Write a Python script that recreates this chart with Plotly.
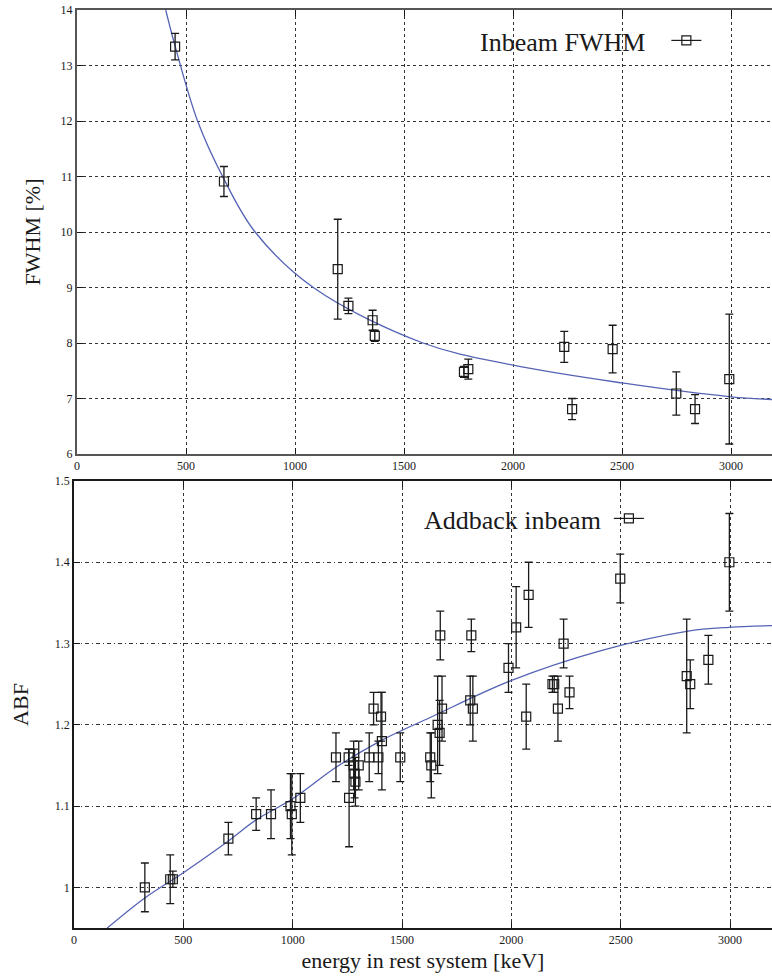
import plotly.graph_objects as go

# ---------- Top panel: Inbeam FWHM ----------
fwhm_energy = [450, 674, 1196, 1245, 1356, 1366, 1775, 1795, 2235, 2271, 2457, 2749, 2835, 2992]
fwhm_value = [13.34, 10.91, 9.33, 8.67, 8.41, 8.13, 7.48, 7.53, 7.93, 6.81, 7.89, 7.09, 6.81, 7.35]
fwhm_error = [0.24, 0.27, 0.90, 0.14, 0.18, 0.10, 0.10, 0.18, 0.28, 0.19, 0.43, 0.39, 0.26, 1.17]

# fit curve
fwhm_fit_energy = [407, 450, 553, 668, 817, 1084, 1587, 2000, 2500, 3000, 3200]
fwhm_fit_value = [14.0, 13.35, 12.0, 11.0, 10.0, 9.0, 8.0, 7.6, 7.28, 7.03, 6.98]

# ---------- Bottom panel: Addback inbeam ----------
abf_energy = [324, 440, 452, 706, 833, 901, 990, 996, 1035, 1198, 1256, 1258, 1279, 1283,
              1287, 1302, 1350, 1370, 1392, 1404, 1408, 1492, 1629, 1634, 1663, 1672, 1675,
              1683, 1812, 1817, 1824, 1987, 2022, 2068, 2079, 2188, 2196, 2213, 2239, 2266,
              2498, 2802, 2818, 2901, 2997]
abf_value = [1.00, 1.01, 1.01, 1.06, 1.09, 1.09, 1.10, 1.09, 1.11, 1.16, 1.16, 1.11, 1.15, 1.14,
             1.13, 1.15, 1.16, 1.22, 1.16, 1.21, 1.18, 1.16, 1.16, 1.15, 1.20, 1.19, 1.31,
             1.22, 1.23, 1.31, 1.22, 1.27, 1.32, 1.21, 1.36, 1.25, 1.25, 1.22, 1.30, 1.24,
             1.38, 1.26, 1.25, 1.28, 1.40]
abf_error = [0.03, 0.03, 0.01, 0.02, 0.02, 0.03, 0.04, 0.05, 0.03, 0.03, 0.01, 0.06, 0.03, 0.03,
             0.03, 0.03, 0.03, 0.02, 0.02, 0.03, 0.06, 0.03, 0.03, 0.04, 0.06, 0.04, 0.03,
             0.04, 0.03, 0.02, 0.04, 0.03, 0.05, 0.04, 0.04, 0.01, 0.01, 0.04, 0.03, 0.02,
             0.03, 0.07, 0.03, 0.03, 0.06]

abf_fit_energy = [152, 324, 500, 706, 833, 1000, 1200, 1400, 1629, 1995, 2406, 2802, 2997, 3200]
abf_fit_value = [0.95, 0.987, 1.018, 1.057, 1.083, 1.109, 1.148, 1.18, 1.209, 1.254, 1.291, 1.315, 1.320, 1.322]

x_ticks = [0, 500, 1000, 1500, 2000, 2500, 3000]

FONT = "Liberation Serif"
W, H = 772, 978
FIT_COLOR = "#5563b5"
INK = "#1a1a1a"

marker_style = dict(symbol="square-open", size=9, color=INK, line=dict(width=1.2, color=INK))

fig = go.Figure()

# --- top panel
fig.add_trace(go.Scatter(
    x=fwhm_fit_energy, y=fwhm_fit_value, mode="lines", line=dict(color=FIT_COLOR, width=1.3, shape="spline"),
    xaxis="x", yaxis="y", showlegend=False, hoverinfo="skip"))
fig.add_trace(go.Scatter(
    x=fwhm_energy, y=fwhm_value, mode="markers", name="Inbeam FWHM", marker=marker_style,
    error_y=dict(type="data", array=fwhm_error, color=INK, thickness=1.3, width=4),
    xaxis="x", yaxis="y", showlegend=False))
# legend key (gnuplot-style error-bar key)
fig.add_trace(go.Scatter(
    x=[None], y=[None], mode="lines+markers", name="", marker=marker_style,
    line=dict(color=INK, width=1.2), xaxis="x", yaxis="y", legend="legend", showlegend=True))

# --- bottom panel
fig.add_trace(go.Scatter(
    x=abf_fit_energy, y=abf_fit_value, mode="lines", line=dict(color=FIT_COLOR, width=1.3, shape="spline"),
    xaxis="x2", yaxis="y2", showlegend=False, hoverinfo="skip"))
fig.add_trace(go.Scatter(
    x=abf_energy, y=abf_value, mode="markers", name="Addback inbeam", marker=marker_style,
    error_y=dict(type="data", array=abf_error, color=INK, thickness=1.3, width=4),
    xaxis="x2", yaxis="y2", showlegend=False))
fig.add_trace(go.Scatter(
    x=[None], y=[None], mode="lines+markers", name="", marker=marker_style,
    line=dict(color=INK, width=1.2), xaxis="x2", yaxis="y2", legend="legend2", showlegend=True))

tickfont = dict(family=FONT, size=12, color=INK)
common_x = dict(tickvals=x_ticks, ticks="inside", ticklen=6, tickcolor=INK, showline=True,
                mirror="ticks", showgrid=True, gridcolor="#333", griddash="dot", gridwidth=1,
                zeroline=False, tickfont=tickfont, automargin=False)
common_y = dict(ticks="inside", ticklen=6, tickcolor=INK, showline=True, mirror=False,
                showgrid=True, gridcolor="#333", gridwidth=1, zeroline=False, tickfont=tickfont,
                automargin=False)

legend_common = dict(xanchor="left", yanchor="top", orientation="h", bgcolor="rgba(0,0,0,0)",
                     itemwidth=30, font=dict(family=FONT, size=26))

fig.update_layout(
    width=W, height=H,
    margin=dict(l=0, r=0, t=0, b=0),
    paper_bgcolor="white", plot_bgcolor="white",
    font=dict(family=FONT, color=INK),
    xaxis=dict(domain=[77 / W, 1], range=[0, 3188], anchor="y", linecolor="#555", linewidth=2,
               **common_x),
    yaxis=dict(domain=[1 - 454 / H, 1 - 10 / H], range=[6, 14], dtick=1, anchor="x",
               linecolor="#555", linewidth=2, griddash="dot",
               title=dict(text="FWHM [%]", font=dict(family=FONT, size=22), standoff=14),
               **common_y),
    xaxis2=dict(domain=[74 / W, 1], range=[0, 3192], anchor="y2", linecolor=INK, linewidth=1.6,
                title=dict(text="energy in rest system [keV]", font=dict(family=FONT, size=22), standoff=6),
                **common_x),
    yaxis2=dict(domain=[1 - 928 / H, 1 - 481 / H], range=[0.95, 1.5],
                tickvals=[1, 1.1, 1.2, 1.3, 1.4, 1.5], ticktext=["1", "1.1", "1.2", "1.3", "1.4", "1.5"],
                anchor="x2", linecolor=INK, linewidth=1.6, griddash="4px,3px,1px,3px",
                title=dict(text="ABF", font=dict(family=FONT, size=22), standoff=20),
                **common_y),
    legend=dict(x=478 / W, y=1 - 17 / H,
                title=dict(text="Inbeam FWHM\u00a0\u00a0", side="left", font=dict(family=FONT, size=26)),
                **legend_common),
    legend2=dict(x=422 / W, y=1 - 495 / H,
                 title=dict(text="Addback inbeam", side="left", font=dict(family=FONT, size=26)),
                 **legend_common),
)

fig.write_html("out.html", config={"displayModeBar": False},
               post_script="document.body.style.margin='0';document.body.style.padding='0';")
